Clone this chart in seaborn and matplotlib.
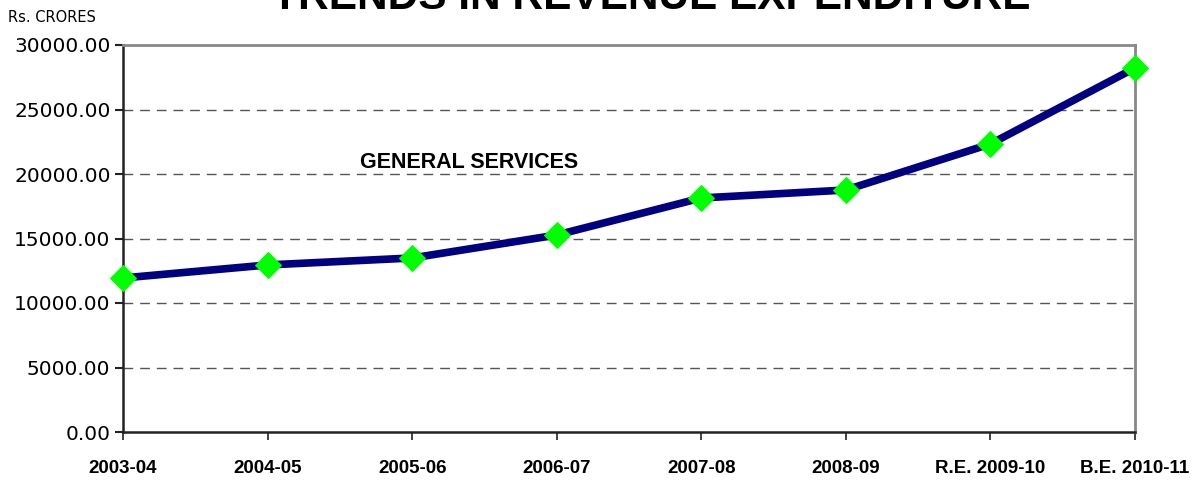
import numpy as np
import pandas as pd
import matplotlib
matplotlib.use("Agg")
import matplotlib.pyplot as plt
import seaborn as sns

# Donnees (Rs. crores)
years = ["2003-04", "2004-05", "2005-06", "2006-07", "2007-08",
         "2008-09", "R.E. 2009-10", "B.E. 2010-11"]
general_services = [11940, 12950, 13490, 15270, 18140, 18760, 22330, 28220]
y_ticks = [0, 5000, 10000, 15000, 20000, 25000, 30000]

sns.set_style("white")
plt.rcParams["font.family"] = ["Liberation Sans", "DejaVu Sans"]
plt.rcParams["text.color"] = "black"
plt.rcParams["xtick.color"] = "black"
plt.rcParams["ytick.color"] = "black"

df = pd.DataFrame({"year": years, "value": general_services})

fig = plt.figure(figsize=(12.03, 4.8), dpi=100)
ax = fig.add_axes([123 / 1203, 48 / 480, (1135 - 123) / 1203, (432 - 45) / 480])

sns.lineplot(data=df, x="year", y="value", ax=ax, sort=False,
             color="#000080", linewidth=5.5, marker="D", markersize=13,
             markerfacecolor="#00FF00", markeredgecolor="#00FF00", zorder=3,
             clip_on=False)

ax.set_xlim(0, len(years) - 1)
ax.set_ylim(0, 30000)
ax.set_yticks(y_ticks)
ax.set_yticklabels([f"{v:.2f}" for v in y_ticks], fontfamily="DejaVu Sans", fontsize=14.5)
ax.set_xticks(range(len(years)))
ax.set_xticklabels(years, fontweight="bold", fontsize=13.5)
ax.set_xlabel("")
ax.set_ylabel("")

for v in y_ticks[1:-1]:
    ax.axhline(v, color="#555555", linewidth=1, linestyle=(0, (7, 5)), zorder=1)

ax.tick_params(axis="y", direction="out", length=6, width=1.5, color="#222222", pad=3, left=True)
ax.tick_params(axis="x", direction="out", length=6, width=1.2, color="#222222", pad=14, bottom=True)

for side in ["left", "bottom"]:
    ax.spines[side].set_color("#222222")
    ax.spines[side].set_linewidth(1.8)
for side in ["top", "right"]:
    ax.spines[side].set_color("#888888")
    ax.spines[side].set_linewidth(2)

ax.text(1.64, 20465, "GENERAL SERVICES", fontsize=15.5, fontweight="bold",
        ha="left", va="baseline", color="black")

fig.text(8 / 1203, 1 - 22 / 480, "Rs. CRORES", fontsize=10.5,
         fontfamily="DejaVu Sans", ha="left", va="baseline", color="black")
fig.text(651 / 1203, 1 - 9 / 480, "TRENDS IN REVENUE EXPENDITURE",
         fontsize=30.5, fontweight="bold", ha="center", va="baseline", color="black")

fig.savefig("out.png", dpi=100)
plt.close(fig)
